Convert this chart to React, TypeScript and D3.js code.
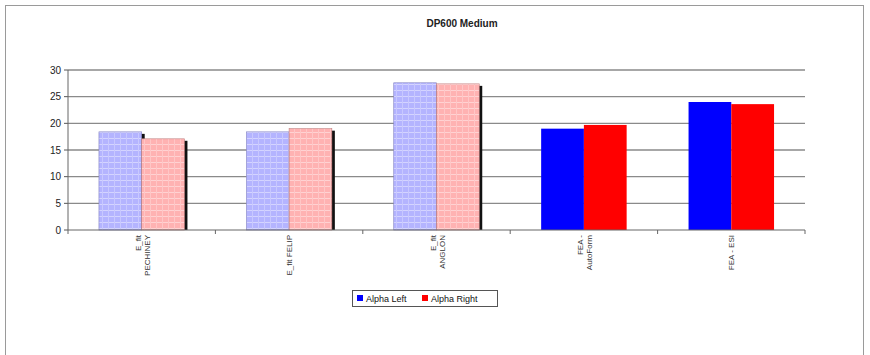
import React from "react";
import * as d3 from "d3";

const categories: string[][] = [
  ["E_fit", "PECHINEY"],
  ["E_fit  FELIP"],
  ["E_fit", "ANGLON"],
  ["FEA -", "AutoForm"],
  ["FEA - ESI"],
];
const alphaLeft = [18.4, 18.4, 27.6, 19.0, 24.0];
const alphaRight = [17.1, 19.0, 27.4, 19.7, 23.6];
const patterned = [true, true, true, false, false];
const yTicks = [0, 5, 10, 15, 20, 25, 30];
const seriesNames = ["Alpha Left", "Alpha Right"];

export default function App() {
  const W = 870, H = 355;
  const left = 68, right = 805, top = 70, bottom = 230;
  const x = d3.scaleBand<number>().domain(d3.range(categories.length)).range([left, right]).paddingInner(0).paddingOuter(0);
  const y = d3.scaleLinear().domain([0, 30]).range([bottom, top]);
  const bw = x.bandwidth();
  const barW = bw * 0.29;
  const font = "Arial, 'Liberation Sans', sans-serif";

  const bars: { i: number; s: number; v: number }[] = [];
  categories.forEach((_, i) => {
    bars.push({ i, s: 0, v: alphaLeft[i] });
    bars.push({ i, s: 1, v: alphaRight[i] });
  });
  const bx = (i: number, s: number) => (x(i) as number) + bw / 2 - barW + s * barW;
  const fillFor = (i: number, s: number) =>
    patterned[i] ? (s === 0 ? "url(#patL)" : "url(#patR)") : s === 0 ? "#0000ff" : "#ff0000";

  return (
    <svg width={W} height={H} style={{ position: "absolute", left: 0, top: 0 }} fontFamily={font}>
      <defs>
        <pattern id="patL" width="6" height="6" patternUnits="userSpaceOnUse">
          <rect width="6" height="6" fill="#b4b4ff" />
          <line x1="0" y1="0.5" x2="6" y2="0.5" stroke="#d4d4ff" strokeWidth="1" />
          <line x1="0.5" y1="0" x2="0.5" y2="6" stroke="#c8c8ff" strokeWidth="1" />
        </pattern>
        <pattern id="patR" width="6" height="6" patternUnits="userSpaceOnUse">
          <rect width="6" height="6" fill="#ffb2b2" />
          <line x1="0" y1="0.5" x2="6" y2="0.5" stroke="#ffd2d2" strokeWidth="1" />
          <line x1="0.5" y1="0" x2="0.5" y2="6" stroke="#ffc6c6" strokeWidth="1" />
        </pattern>
      </defs>
      <rect x={0} y={0} width={W} height={H} fill="#fff" />
      <rect x={5.5} y={5.5} width={858} height={360} fill="none" stroke="#9a9a9a" strokeWidth={1} />
      <text x={462} y={27} textAnchor="middle" fontSize={10} fontWeight="bold" fill="#222">DP600 Medium</text>

      {yTicks.map((t) => (
        <g key={t}>
          {t > 0 && <line x1={left} x2={right} y1={y(t)} y2={y(t)} stroke="#8a8a8a" strokeWidth={1.4} />}
          <line x1={left - 4} x2={left} y1={y(t)} y2={y(t)} stroke="#555" />
          <text x={left - 7} y={y(t) + 3.5} textAnchor="end" fontSize={10} fill="#222">{t}</text>
        </g>
      ))}
      <line x1={left} x2={left} y1={top} y2={bottom} stroke="#666" strokeWidth={1} />

      {bars.filter((b) => patterned[b.i]).map((b) => (
        <rect key={"sh" + b.i + b.s} x={bx(b.i, b.s) + 3} y={y(b.v) + 2} width={barW} height={bottom - y(b.v) - 2} fill="#111" />
      ))}
      {bars.map((b) => (
        <rect key={"b" + b.i + b.s} x={bx(b.i, b.s)} y={y(b.v)} width={barW} height={bottom - y(b.v)}
          fill={fillFor(b.i, b.s)} stroke={patterned[b.i] ? (b.s === 0 ? "#8080c0" : "#c08080") : "none"} strokeWidth={0.6} />
      ))}

      <line x1={left} x2={right} y1={bottom} y2={bottom} stroke="#666" strokeWidth={1} />
      {d3.range(categories.length + 1).map((k) => {
        const xx = left + k * bw;
        return <line key={"xt" + k} x1={xx} x2={xx} y1={bottom} y2={bottom + 4} stroke="#666" />;
      })}

      {categories.map((lines, i) => {
        const cx = (x(i) as number) + bw / 2;
        return (
          <text key={"cl" + i} transform={`translate(${cx},${bottom + 5}) rotate(-90)`} textAnchor="end" fontSize={8} fill="#333">
            {lines.map((ln, j) => (
              <tspan key={j} x={0} dy={j === 0 ? (lines.length === 1 ? 3 : -1) : 9}>{ln}</tspan>
            ))}
          </text>
        );
      })}

      <g transform="translate(352,290)">
        <rect x={0.5} y={0.5} width={145} height={16} fill="#fff" stroke="#555" strokeWidth={1} />
        <rect x={5} y={5} width={6} height={6} fill="#0000ff" />
        <text x={14} y={11.5} fontSize={9} fill="#111">{seriesNames[0]}</text>
        <rect x={70} y={5} width={6} height={6} fill="#ff0000" />
        <text x={79} y={11.5} fontSize={9} fill="#111">{seriesNames[1]}</text>
      </g>
    </svg>
  );
}
